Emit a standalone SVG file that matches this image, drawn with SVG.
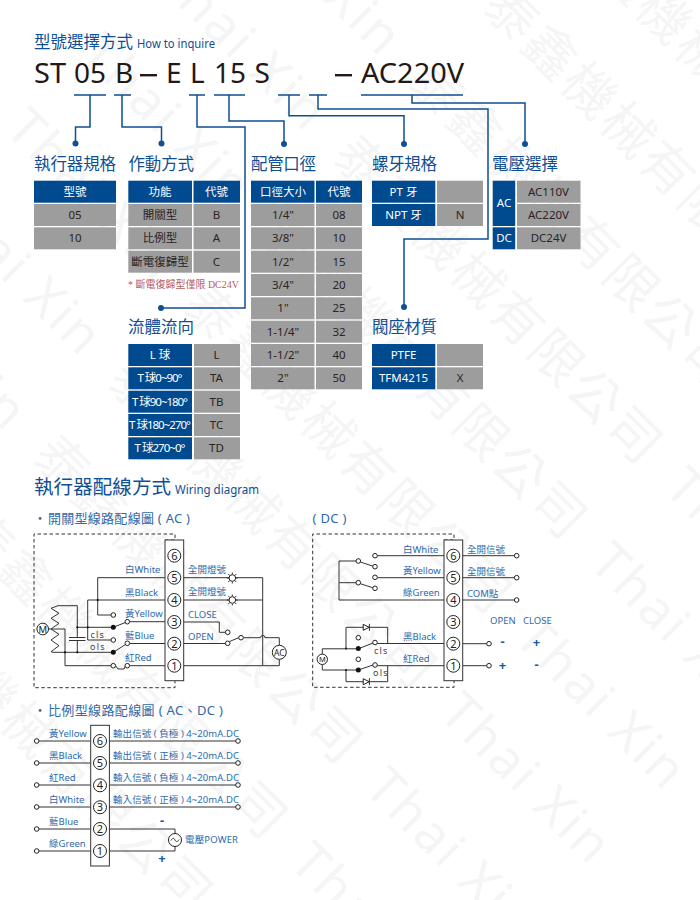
<svg xmlns="http://www.w3.org/2000/svg" xmlns:xlink="http://www.w3.org/1999/xlink" width="700" height="900" viewBox="0 0 700 900">
<style>
text{font-family:"Noto Sans","Noto Sans CJK TC","Liberation Sans",sans-serif}
.wm{font-size:52px;fill:#f5f5f5;letter-spacing:3px}
.ttl{font-size:16.5px;fill:#0f4f93}
.en{font-size:12px;fill:#0f4f93}
.model{font-size:28px;fill:#231815}
.b{fill:#004a8f}
.g{fill:#9d9d9d}
.tw{font-size:11.5px;fill:#fff;text-anchor:middle}
.td{font-size:11.5px;fill:#2a2422;text-anchor:middle}
.note{font-family:"Liberation Serif","Noto Sans CJK TC",serif;font-size:10px;fill:#b85a5c}
.sub{font-size:13px;fill:#2f6aaa}
.lb{font-size:9.500px;fill:#2f6aaa}
.cn{font-size:9.500px;fill:#2f6aaa}
.sm{font-size:9px;fill:#444;letter-spacing:1.2px}
.sign{font-size:13px;fill:#0f5aa5;font-weight:700;text-anchor:middle}
.num{font-size:11px;fill:#222;text-anchor:middle}
.conn{fill:none;stroke:#0f4f93;stroke-width:1.5}
.dot{fill:#0f4f93}
.w{fill:none;stroke:#333;stroke-width:1}
.dash{fill:none;stroke:#333;stroke-width:1;stroke-dasharray:3.5 2.5}
.strip{fill:#fff;stroke:#333;stroke-width:1}
.tc{fill:#fff;stroke:#222;stroke-width:1}
.ring{fill:#fff;stroke:#222;stroke-width:1}
.bd{fill:#111}
</style>
<defs>
<g id="wm">
<text class="wm" x="95" y="0">Thai Xin</text>
<text class="wm" x="345" y="0">泰鑫機械有限公司</text>
<text class="wm" x="815" y="0">Thai Xin</text>
</g>
<g id="lamp">
<path class="w" d="M-5.500 0H-3.500M3.500 0H5.500M0 -5.500V-3.500M0 3.500V5.500M-4 -4L-2.500 -2.500M4 -4L2.500 -2.500M-4 4L-2.500 2.500M4 4L2.500 2.500"/>
<circle class="ring" r="3.300"/>
</g>
<g id="diode">
<path class="ring" d="M-3.500 -3L2.500 0L-3.500 3Z"/>
<path class="w" d="M2.700 -3.500V3.500"/>
</g>
<g id="strip">
<rect class="strip" x="0" y="0" width="18.700" height="140.700"/>
<g class="tc">
<circle cx="9.300" cy="15.700" r="6.500"/><circle cx="9.300" cy="37.700" r="6.500"/><circle cx="9.300" cy="60" r="6.500"/><circle cx="9.300" cy="82" r="6.500"/><circle cx="9.300" cy="103.700" r="6.500"/><circle cx="9.300" cy="125.700" r="6.500"/>
</g>
<g>
<text class="num" x="9.300" y="19.700">6</text><text class="num" x="9.300" y="41.700">5</text><text class="num" x="9.300" y="64">4</text><text class="num" x="9.300" y="86">3</text><text class="num" x="9.300" y="107.700">2</text><text class="num" x="9.300" y="129.700">1</text>
</g>
</g>
</defs>

<g id="watermark" transform="rotate(45)">
<use href="#wm" y="-440"/><use href="#wm" y="-334"/><use href="#wm" y="-228"/><use href="#wm" y="-122"/><use href="#wm" y="-16"/><use href="#wm" y="90"/><use href="#wm" y="196"/><use href="#wm" y="302"/><use href="#wm" y="408"/><use href="#wm" y="514"/>
</g>

<g id="title">
<text class="ttl" x="34" y="48" textLength="99">型號選擇方式</text>
<text class="en" x="137" y="48" textLength="78" lengthAdjust="spacingAndGlyphs">How to inquire</text>
</g>
<g id="model">
<text class="model" x="34" y="83" textLength="32" lengthAdjust="spacingAndGlyphs">ST</text>
<text class="model" x="74" y="83" textLength="32" lengthAdjust="spacingAndGlyphs">05</text>
<text class="model" x="115" y="83">B</text>
<rect x="140" y="74" width="17" height="2.400" fill="#231815"/>
<text class="model" x="166" y="83">E</text>
<text class="model" x="190" y="83">L</text>
<text class="model" x="214" y="83" textLength="32" lengthAdjust="spacingAndGlyphs">15</text>
<text class="model" x="254.500" y="83">S</text>
<rect x="335" y="74" width="17" height="2.400" fill="#231815"/>
<text class="model" x="361" y="83" textLength="103" lengthAdjust="spacingAndGlyphs">AC220V</text>
</g>

<g id="connectors">
<path class="conn" d="M74 95H106M114 95H131M189 95H205M214 95H245M278 95H300M309 95H327M361 95H463"/>
<path class="conn" d="M90 95V127H75.500V143"/>
<path class="conn" d="M122 95V127H161.500V143"/>
<path class="conn" d="M197 95V127H245V308H161"/>
<path class="conn" d="M229 95V121H284V144"/>
<path class="conn" d="M289 95V115.700H404V144"/>
<path class="conn" d="M318 95V109H488V239H404V307"/>
<path class="conn" d="M412 95V103H525V144"/>
<circle class="dot" cx="75.500" cy="143.500" r="3"/>
<circle class="dot" cx="161.500" cy="143.500" r="3"/>
<circle class="dot" cx="284" cy="144" r="3"/>
<circle class="dot" cx="404" cy="144" r="3"/>
<circle class="dot" cx="525" cy="144" r="3"/>
<circle class="dot" cx="161" cy="308" r="3"/>
<circle class="dot" cx="404" cy="307" r="3"/>
</g>

<g id="node-actuator">
<text class="ttl" x="34" y="170" textLength="82">執行器規格</text>
<rect class="b" x="34" y="180.700" width="82" height="22"/><text class="tw" x="75" y="195.700">型號</text>
<rect class="g" x="34" y="204" width="82" height="22"/><text class="td" x="75" y="219">05</text>
<rect class="g" x="34" y="227.300" width="82" height="22"/><text class="td" x="75" y="242.300">10</text>
</g>

<g id="node-action">
<text class="ttl" x="128.500" y="170" textLength="65.500">作動方式</text>
<rect class="b" x="128.300" y="180.700" width="63.700" height="22"/><text class="tw" x="160" y="195.700">功能</text>
<rect class="b" x="193.500" y="180.700" width="46.500" height="22"/><text class="tw" x="216.500" y="195.700">代號</text>
<rect class="g" x="128.300" y="204" width="63.700" height="22"/><text class="td" x="160" y="219">開關型</text>
<rect class="g" x="193.500" y="204" width="46.500" height="22"/><text class="td" x="216.500" y="219">B</text>
<rect class="g" x="128.300" y="227.300" width="63.700" height="22"/><text class="td" x="160" y="242.300">比例型</text>
<rect class="g" x="193.500" y="227.300" width="46.500" height="22"/><text class="td" x="216.500" y="242.300">A</text>
<rect class="g" x="128.300" y="250.700" width="63.700" height="22"/><text class="td" x="160" y="265.700">斷電復歸型</text>
<rect class="g" x="193.500" y="250.700" width="46.500" height="22"/><text class="td" x="216.500" y="265.700">C</text>
<text class="note" x="128" y="288" textLength="111">* 斷電復歸型僅限 DC24V</text>
</g>

<g id="node-flow">
<text class="ttl" x="128" y="333" textLength="66">流體流向</text>
<rect class="b" x="128.300" y="344" width="63.700" height="22"/><text class="tw" x="160" y="359">L 球</text>
<rect class="g" x="194" y="344" width="46" height="22"/><text class="td" x="216.500" y="359">L</text>
<rect class="b" x="128.300" y="367.300" width="63.700" height="22"/><text class="tw" x="160" y="382.300" textLength="45">T 球0~90°</text>
<rect class="g" x="194" y="367.300" width="46" height="22"/><text class="td" x="216.500" y="382.300">TA</text>
<rect class="b" x="128.300" y="390.700" width="63.700" height="22"/><text class="tw" x="160" y="405.700" textLength="56">T 球90~180°</text>
<rect class="g" x="194" y="390.700" width="46" height="22"/><text class="td" x="216.500" y="405.700">TB</text>
<rect class="b" x="128.300" y="414" width="63.700" height="22"/><text class="tw" x="160" y="429" textLength="62">T 球180~270°</text>
<rect class="g" x="194" y="414" width="46" height="22"/><text class="td" x="216.500" y="429">TC</text>
<rect class="b" x="128.300" y="437.300" width="63.700" height="22"/><text class="tw" x="160" y="452.300" textLength="51">T 球270~0°</text>
<rect class="g" x="194" y="437.300" width="46" height="22"/><text class="td" x="216.500" y="452.300">TD</text>
</g>

<g id="node-port">
<text class="ttl" x="251" y="170" textLength="65">配管口徑</text>
<rect class="b" x="251" y="180.700" width="63.500" height="22"/><text class="tw" x="283" y="195.700">口徑大小</text>
<rect class="b" x="316" y="180.700" width="46" height="22"/><text class="tw" x="339" y="195.700">代號</text>
<rect class="g" x="251" y="204" width="63.500" height="22"/><text class="td" x="283" y="219">1/4"</text>
<rect class="g" x="316" y="204" width="46" height="22"/><text class="td" x="339" y="219">08</text>
<rect class="g" x="251" y="227.300" width="63.500" height="22"/><text class="td" x="283" y="242.300">3/8"</text>
<rect class="g" x="316" y="227.300" width="46" height="22"/><text class="td" x="339" y="242.300">10</text>
<rect class="g" x="251" y="250.700" width="63.500" height="22"/><text class="td" x="283" y="265.700">1/2"</text>
<rect class="g" x="316" y="250.700" width="46" height="22"/><text class="td" x="339" y="265.700">15</text>
<rect class="g" x="251" y="274" width="63.500" height="22"/><text class="td" x="283" y="289">3/4"</text>
<rect class="g" x="316" y="274" width="46" height="22"/><text class="td" x="339" y="289">20</text>
<rect class="g" x="251" y="297.300" width="63.500" height="22"/><text class="td" x="283" y="312.300">1"</text>
<rect class="g" x="316" y="297.300" width="46" height="22"/><text class="td" x="339" y="312.300">25</text>
<rect class="g" x="251" y="320.700" width="63.500" height="22"/><text class="td" x="283" y="335.700">1-1/4"</text>
<rect class="g" x="316" y="320.700" width="46" height="22"/><text class="td" x="339" y="335.700">32</text>
<rect class="g" x="251" y="344" width="63.500" height="22"/><text class="td" x="283" y="359">1-1/2"</text>
<rect class="g" x="316" y="344" width="46" height="22"/><text class="td" x="339" y="359">40</text>
<rect class="g" x="251" y="367.300" width="63.500" height="22"/><text class="td" x="283" y="382.300">2"</text>
<rect class="g" x="316" y="367.300" width="46" height="22"/><text class="td" x="339" y="382.300">50</text>
</g>

<g id="node-thread">
<text class="ttl" x="372" y="170" textLength="65">螺牙規格</text>
<rect class="b" x="372" y="180.700" width="63.300" height="22"/><text class="tw" x="403.500" y="195.700">PT 牙</text>
<rect class="g" x="437" y="180.700" width="46" height="22"/>
<rect class="b" x="372" y="204" width="63.300" height="22"/><text class="tw" x="403.500" y="219">NPT 牙</text>
<rect class="g" x="437" y="204" width="46" height="22"/><text class="td" x="460" y="219">N</text>
</g>

<g id="node-seat">
<text class="ttl" x="372" y="333" textLength="65">閥座材質</text>
<rect class="b" x="372" y="344" width="63.300" height="22"/><text class="tw" x="403.500" y="359">PTFE</text>
<rect class="g" x="437" y="344" width="46" height="22"/>
<rect class="b" x="372" y="367.300" width="63.300" height="22"/><text class="tw" x="403.500" y="382.300">TFM4215</text>
<rect class="g" x="437" y="367.300" width="46" height="22"/><text class="td" x="460" y="382.300">X</text>
</g>

<g id="node-voltage">
<text class="ttl" x="492" y="170" textLength="66">電壓選擇</text>
<rect class="b" x="492.700" y="180.700" width="22.500" height="45.300"/><text class="tw" x="504" y="207">AC</text>
<rect class="b" x="492.700" y="227.300" width="22.500" height="22"/><text class="tw" x="504" y="242.300">DC</text>
<rect class="g" x="517" y="180.700" width="63.500" height="22"/><text class="td" x="548.500" y="195.700">AC110V</text>
<rect class="g" x="517" y="204" width="63.500" height="22"/><text class="td" x="548.500" y="219">AC220V</text>
<rect class="g" x="517" y="227.300" width="63.500" height="22"/><text class="td" x="548.500" y="242.300">DC24V</text>
</g>

<g id="wiring-title">
<text x="34" y="494" font-size="19.500" fill="#0f4f93" textLength="137">執行器配線方式</text>
<text class="en" x="175" y="494" textLength="84" lengthAdjust="spacingAndGlyphs">Wiring diagram</text>
</g>

<g id="wiring-ac">
<text class="sub" x="33.500" y="522.500">・</text>
<text class="sub" x="48" y="523" textLength="142" xml:space="preserve">開關型線路配線圖 ( AC )</text>
<path class="dash" d="M165 540H175V534H34V687.700H175V681"/>
<path class="w" d="M165 577.700H97.700V615H111M165 600H87.700V640H111"/>
<path class="w" d="M51 629L59 623.300L51 618.300L59 613.300L51 608.300L58 605.700H77.300V637.500M69 637.500H85.500M69 640.500H85.500M77.300 640.500V652.300"/>
<path class="w" d="M51 629L59 634.300L51 640L59 645.700L51 651.700L53 652.300H113.300L127.300 643.300M48.500 629H65V665.700H111"/>
<path class="w" d="M77.300 627.300H113.300L127.300 621.700"/>
<path class="w" d="M115.500 665.700L118 669H124L125.500 665.700"/>
<path class="w" d="M129.500 621.700H165M129.500 643.500H165M129.500 665.700H165"/>
<path class="w" d="M184 577.700H262.700M184 600H262.700M262.700 577.700V665.700M184 665.700H279.300V659.500M279.300 645V637.700H265A2.200 2.200 0 0 0 260.500 637.700H243.500"/>
<path class="w" d="M184 622H219.300V632.300H225.500M184 643.500H225.500M229.500 641.500L238.700 637.700"/>
<circle class="bd" cx="113.300" cy="627.300" r="2.500"/><circle class="bd" cx="113.300" cy="652.300" r="2.500"/>
<circle class="bd" cx="87.700" cy="627.300" r="1.100"/><circle class="bd" cx="77.300" cy="627.300" r="1.100"/><circle class="bd" cx="77.300" cy="652.300" r="1.100"/><circle class="bd" cx="65" cy="652.300" r="1.100"/><circle class="bd" cx="97.700" cy="600" r="1.100"/>
<circle class="ring" cx="113.300" cy="615" r="2.300"/><circle class="ring" cx="113.300" cy="640" r="2.300"/><circle class="ring" cx="113.300" cy="665.700" r="2.300"/>
<circle class="ring" cx="127.300" cy="621.700" r="2.300"/><circle class="ring" cx="127.300" cy="643.300" r="2.300"/><circle class="ring" cx="127.300" cy="665.700" r="2.300"/>
<circle class="ring" cx="227.700" cy="632.300" r="2.300"/><circle class="ring" cx="227.700" cy="643.300" r="2.300"/><circle class="ring" cx="241" cy="637.700" r="2.300"/>
<circle class="ring" cx="42.700" cy="629" r="5.800"/><text x="42.700" y="632.500" font-size="9.500" text-anchor="middle" fill="#222">M</text>
<circle class="ring" cx="279.300" cy="652.300" r="7"/><text x="279.300" y="655.500" font-size="8.500" text-anchor="middle" fill="#222">AC</text>
<use href="#lamp" x="232.300" y="578"/><use href="#lamp" x="232.300" y="600"/>
<use href="#strip" x="165" y="540"/>
<text class="lb" x="125" y="573">白White</text><text class="lb" x="125" y="595.500">黑Black</text><text class="lb" x="125" y="617">黃Yellow</text><text class="lb" x="125" y="639">藍Blue</text><text class="lb" x="125" y="661">紅Red</text>
<text class="sm" x="90.500" y="637.500">cls</text><text class="sm" x="90" y="650">ols</text>
<text class="cn" x="188" y="573" textLength="38">全開燈號</text><text class="cn" x="188" y="595" textLength="38">全開燈號</text>
<text class="lb" x="188" y="617.500">CLOSE</text><text class="lb" x="188" y="639.500">OPEN</text>
</g>

<g id="wiring-dc">
<text class="sub" x="312.500" y="523" textLength="34" xml:space="preserve">( DC )</text>
<path class="dash" d="M444 540H454V534H312.700V687.300H454V681"/>
<path class="w" d="M444 555.700H377.300M444 577.700H377.300M444 600H339V561H356M339 582.700H356M360.300 562L373 566.200M360.300 583.700L373 587.800"/>
<path class="w" d="M346 648.300V627.300H387.700V643.500M346 670V681.700H387.700V665.700"/>
<path class="w" d="M377.300 643.500H444M377.300 665.700H444"/>
<path class="w" d="M322.300 654V648.800H358.300L373 643M322.300 664.500V670H358.300L373 665"/>
<circle class="bd" cx="358.300" cy="648.500" r="2.500"/><circle class="bd" cx="358.300" cy="670" r="2.500"/>
<circle class="bd" cx="346" cy="648.500" r="1"/><circle class="bd" cx="346" cy="670" r="1"/>
<circle class="ring" cx="375" cy="555.700" r="2.300"/><circle class="ring" cx="375" cy="566.700" r="2.300"/><circle class="ring" cx="358.300" cy="561" r="2.300"/>
<circle class="ring" cx="375" cy="577.300" r="2.300"/><circle class="ring" cx="375" cy="588.300" r="2.300"/><circle class="ring" cx="358.300" cy="582.700" r="2.300"/>
<circle class="ring" cx="358.300" cy="637.700" r="2.300"/><circle class="ring" cx="375" cy="642.500" r="2.300"/>
<circle class="ring" cx="358.300" cy="659.300" r="2.300"/><circle class="ring" cx="375" cy="665" r="2.300"/>
<use href="#diode" x="366.700" y="627.300"/><use href="#diode" x="366.700" y="681.700"/>
<circle class="ring" cx="322.300" cy="659.300" r="5.200"/><text x="322.300" y="662" font-size="7.500" text-anchor="middle" fill="#222">M</text>
<use href="#strip" x="444" y="540"/>
<path class="w" d="M462.700 555.700H514.500M462.700 577.700H514.500M462.700 600H514.500M462.700 643.700H486.800M462.700 665.700H486.800"/>
<circle class="ring" cx="516.700" cy="555.700" r="2.300"/><circle class="ring" cx="516.700" cy="577.700" r="2.300"/><circle class="ring" cx="516.700" cy="600" r="2.300"/><circle class="ring" cx="489" cy="643.700" r="2.300"/><circle class="ring" cx="489" cy="665.700" r="2.300"/>
<text class="lb" x="403" y="552.700">白White</text><text class="lb" x="403" y="574">黃Yellow</text><text class="lb" x="403" y="596">綠Green</text><text class="lb" x="403" y="640">黑Black</text><text class="lb" x="403" y="662">紅Red</text>
<text class="sm" x="374" y="653.500">cls</text><text class="sm" x="373" y="675.500">ols</text>
<text class="cn" x="467" y="553" textLength="38">全開信號</text><text class="cn" x="467" y="575" textLength="38">全開信號</text>
<text class="lb" x="467" y="597">COM點</text>
<text class="lb" x="490" y="624">OPEN</text><text class="lb" x="523" y="624">CLOSE</text>
<text class="sign" x="502.500" y="646">-</text><text class="sign" x="536.500" y="647">+</text><text class="sign" x="502.500" y="670">+</text><text class="sign" x="536.500" y="669">-</text>
</g>

<g id="wiring-prop">
<text class="sub" x="33.500" y="714.500">・</text>
<text class="sub" x="48" y="715" textLength="175" xml:space="preserve">比例型線路配線圖 ( AC、DC )</text>
<path class="w" d="M39 741H90.700M39 763H90.700M39 785H90.700M39 807H90.700M39 829H90.700M39 851H90.700"/>
<path class="w" d="M109.400 741H236M109.400 763H236M109.400 785H236M109.400 807H236"/>
<path class="w" d="M109.400 829H175V833.500M175 846.500V851H109.400"/>
<circle class="ring" cx="36.700" cy="741" r="2.300"/><circle class="ring" cx="36.700" cy="763" r="2.300"/><circle class="ring" cx="36.700" cy="785" r="2.300"/><circle class="ring" cx="36.700" cy="807" r="2.300"/><circle class="ring" cx="36.700" cy="829" r="2.300"/><circle class="ring" cx="36.700" cy="851" r="2.300"/>
<circle class="ring" cx="238" cy="741" r="2.300"/><circle class="ring" cx="238" cy="763" r="2.300"/><circle class="ring" cx="238" cy="785" r="2.300"/><circle class="ring" cx="238" cy="807" r="2.300"/>
<use href="#strip" x="90.700" y="725.300"/>
<circle class="ring" cx="175" cy="840" r="6.500"/><path class="w" d="M171 840.500C172.500 837.500 174 838 175 840S177.500 842.500 179 839.500"/>
<text class="lb" x="49" y="737">黃Yellow</text><text class="lb" x="49" y="759">黑Black</text><text class="lb" x="49" y="781">紅Red</text><text class="lb" x="49" y="803">白White</text><text class="lb" x="49" y="825">藍Blue</text><text class="lb" x="49" y="847">綠Green</text>
<text class="cn" x="113" y="737" textLength="126">輸出信號 ( 負極 ) 4~20mA.DC</text><text class="cn" x="113" y="759" textLength="126">輸出信號 ( 正極 ) 4~20mA.DC</text><text class="cn" x="113" y="781" textLength="126">輸入信號 ( 負極 ) 4~20mA.DC</text><text class="cn" x="113" y="803" textLength="126">輸入信號 ( 正極 ) 4~20mA.DC</text>
<text class="lb" x="185" y="843" textLength="53">電壓POWER</text>
<text class="sign" x="162" y="825">-</text><text class="sign" x="162" y="863">+</text>
</g>
</svg>
